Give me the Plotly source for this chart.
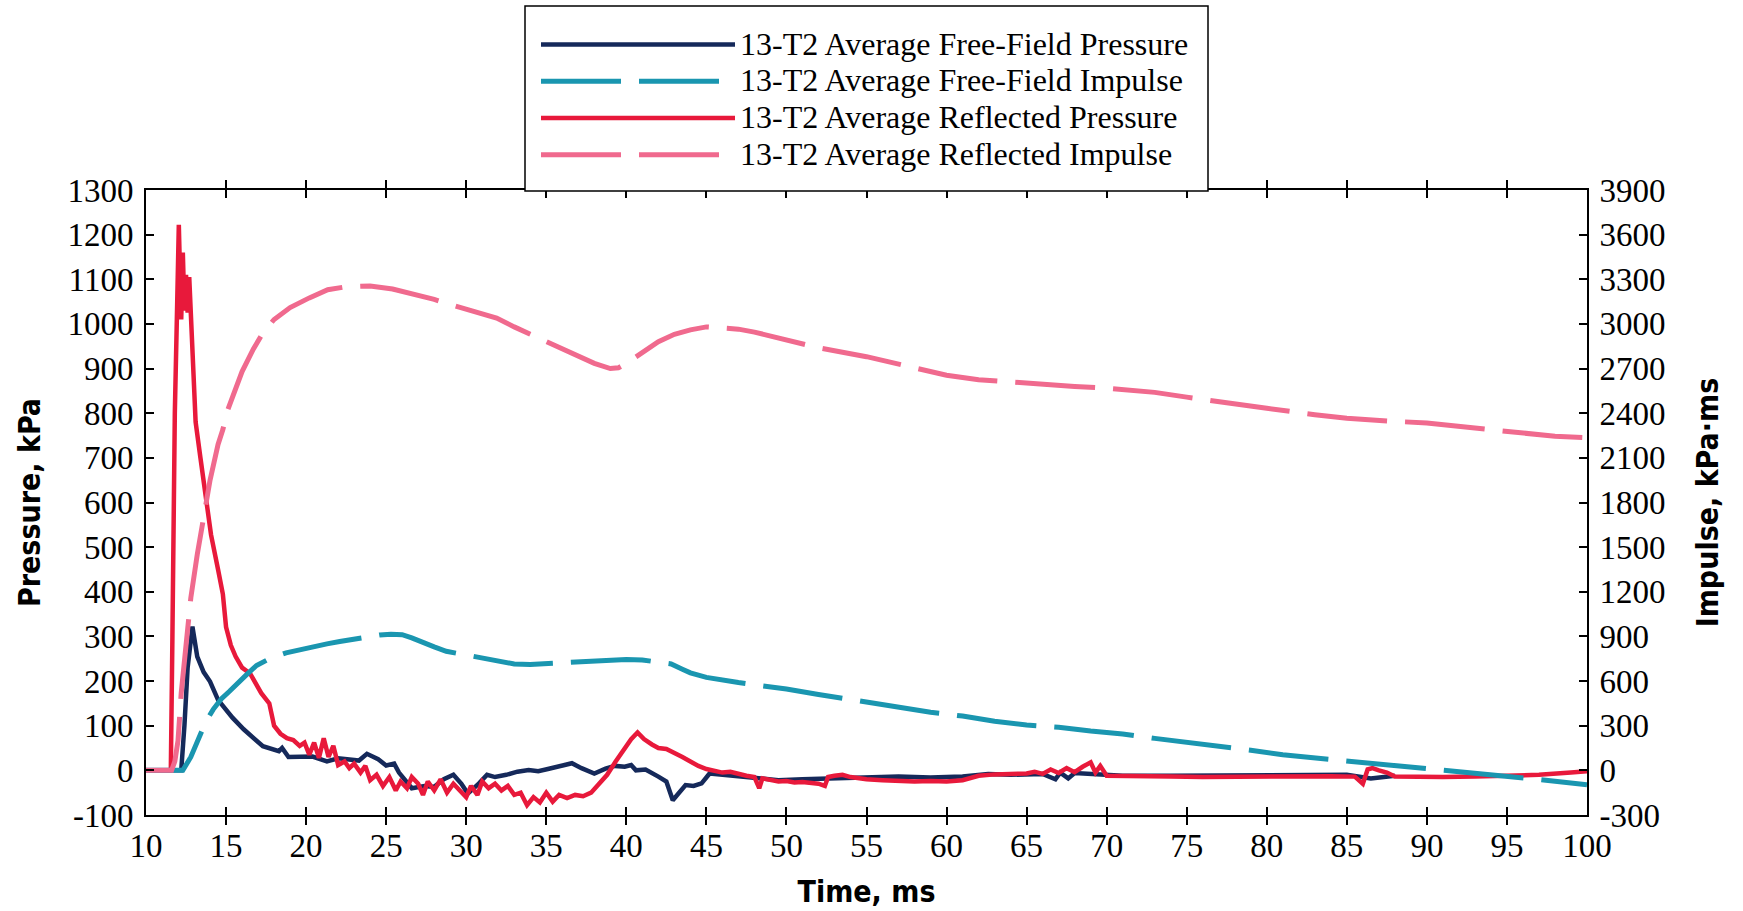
import plotly.graph_objects as go

# ---------------- data ----------------
t_ff_p = [10, 12.2, 12.4, 12.6, 12.9, 13.2, 13.6, 14.0, 14.5, 15.0, 15.4, 16.1, 16.5, 17.3, 18.3, 18.5, 18.9,
          20.4, 21.3, 22.0, 23.3, 23.8, 24.5, 25.0, 25.5, 25.8, 26.6,
          27.4, 28.0, 28.6, 29.2, 29.7, 30.1, 30.5, 30.8, 31.3, 31.8, 32.5, 33.2, 33.9, 34.5, 35.1, 35.8, 36.6,
          37.2, 38.0, 38.7, 39.3, 39.9, 40.3, 40.6, 41.2, 42.0, 42.5, 42.9, 43.3, 43.7, 44.2, 44.7, 45.2, 46.0,
          47.1, 48.3, 49.5, 51.0, 53.0, 55.0, 57.0, 59.0, 61.0, 62.6, 64.0, 66.0, 66.8, 67.1, 67.6, 68.0, 69.0,
          71.0, 74.0, 78.0, 82.0, 85.0, 86.5, 87.5, 88.0]
ff_pressure = [0, 0, 100, 230, 322, 255, 220, 199, 158, 135, 118, 92, 80, 54, 43, 50, 30,
               31, 20, 27, 22, 37, 25, 11, 15, -5, -40,
               -35, -37, -20, -10, -30, -52, -40, -29, -10, -15, -10, -3, 1, -2, 3, 8, 16,
               5, -7, 4, 10, 8, 12, 0, 2, -14, -25, -67, -50, -33, -35, -29, -7, -10,
               -14, -18, -22, -20, -18, -16, -14, -16, -14, -8, -10, -8, -20, -5, -18, -6, -8,
               -12, -12, -11, -10, -10, -18, -15, -12]

t_ff_i = [10, 12.3, 12.8, 13.2, 13.75, 14.2, 14.7, 15.2, 15.7, 16.3, 16.9, 17.8, 18.75, 19.6, 20.6, 21.3, 22.1,
          23.3, 24.6, 25.3, 26.0, 26.6, 27.3, 28.0, 28.75, 30.0, 31.0, 32.0, 33.0, 34.0, 35.0, 36.0, 37.0, 38.0,
          39.0, 40.0, 41.0, 42.0, 42.8, 43.5, 44.0, 45.0, 46.0, 47.0, 48.0, 50.0, 52.0, 54.0, 55.0, 57.0, 59.0,
          61.0, 63.0, 65.0, 67.0, 69.0, 71.0, 73.0, 75.0, 77.0, 79.0, 81.0, 83.0, 85.0, 87.0, 89.0, 91.0, 93.0,
          95.0, 97.0, 100.0]
ff_impulse = [0, 0, 90, 200, 330, 410, 480, 530, 585, 645, 705, 755, 790, 812, 832, 850, 866,
              890, 910, 915, 912, 890, 856, 830, 800, 775, 750, 728, 715, 712, 718, 722, 728, 734,
              740, 745, 742, 730, 715, 680, 655, 625, 605, 590, 575, 547, 510, 475, 457, 430, 390,
              365, 330, 305, 290, 265, 245, 215, 190, 160, 135, 105, 85, 65, 40, 18, 0, -18,
              -42, -62, -97]

t_rf_p = [10, 11.55, 11.65, 11.8, 11.95, 12.05, 12.1, 12.2, 12.3, 12.4, 12.5, 12.6, 12.7, 12.85, 13.1, 13.4,
          13.65, 13.9, 14.06, 14.5, 14.8, 15.0, 15.3, 15.6, 16.0, 16.5, 16.8, 17.2, 17.7, 18.0, 18.4,
          18.8, 19.2, 19.6, 19.9, 20.2, 20.5, 20.8, 21.1, 21.4, 21.7, 22.0, 22.4, 22.7, 23.0, 23.4, 23.7, 24.0,
          24.4, 24.8, 25.2, 25.6, 25.9, 26.3, 26.6, 27.0, 27.3, 27.6, 28.0, 28.4, 28.8, 29.2, 29.6, 30.0, 30.3,
          30.7, 31.0, 31.4, 31.8, 32.2, 32.6, 33.0, 33.4, 33.8, 34.2, 34.6, 35.0, 35.4, 35.8, 36.3, 36.8, 37.3,
          37.8, 38.3, 38.8, 39.3, 39.8, 40.3, 40.7, 41.1, 41.6, 42.0, 42.5, 43.0, 43.5, 44.0, 44.5, 45.0, 45.5,
          46.0, 46.5, 47.0, 47.5, 48.0, 48.3, 48.5, 49.0, 49.5, 50.0, 50.5, 51.0, 51.5, 52.0, 52.4, 52.6, 53.0,
          53.5, 54.0, 55.0, 56.0, 57.0, 58.0, 59.0, 60.0, 61.0, 62.0, 63.0, 64.0, 65.0, 65.5, 66.0, 66.5, 67.0,
          67.5, 68.0, 68.5, 69.0, 69.3, 69.6, 70.0, 71.0, 72.0, 74.0, 76.0, 78.0, 80.0, 82.0, 84.0, 85.5, 86.0,
          86.3, 86.6, 87.0, 87.5, 88.0, 89.0, 91.0, 93.0, 95.0, 97.0, 99.0, 100.0]
rf_pressure = [0, 0, 300, 800, 1050, 1222, 1150, 1010, 1160, 1030, 1110, 1025, 1105, 1000, 780, 700,
               630, 555, 528, 450, 395, 321, 280, 255, 230, 217, 200, 173, 150, 100, 82,
               72, 68, 55, 62, 35, 62, 28, 72, 30, 55, 12, 20, 5, 15, -5, 10, -22,
               -10, -35, -15, -45, -25, -40, -15, -30, -55, -25, -45, -20, -50, -30, -45, -60, -35,
               -55, -25, -40, -30, -45, -35, -55, -50, -78, -60, -72, -50, -70, -55, -62, -55, -58,
               -50, -30, -10, 18, 45, 70, 85, 70, 58, 50, 48, 40, 30, 20, 10, 3, 0,
               -5, -3, -8, -12, -15, -40, -18, -22, -25, -24, -27, -26, -28, -30, -35, -15, -12,
               -10, -15, -20, -22, -24, -25, -24, -25, -22, -12, -9, -8, -7, -3, -8, 2, -6,
               5, -4, 8, 18, -5, 10, -12, -13, -14, -14, -15, -14, -14, -13, -13, -14, -30,
               2, 5, 0, -5, -14, -15, -15, -14, -12, -10, -5, -2]

t_rf_i = [10, 11.6, 11.8, 12.0, 12.2, 12.5, 12.8, 13.2, 13.65, 14.0, 14.5, 14.8, 15.1, 15.6, 16.0, 16.7, 17.3,
          18.0, 19.0, 20.2, 21.35, 22.5, 24.0, 25.4, 26.9, 28.0, 29.0, 30.5, 31.9, 33.0, 34.0, 35.0, 36.0, 37.0,
          38.0, 39.0, 39.5, 40.0, 41.0, 42.0, 43.0, 44.0, 45.0, 46.0, 47.0, 48.0, 50.0, 52.0, 55.0, 58.0, 60.0,
          62.0, 65.0, 68.0, 70.0, 73.0, 75.0, 78.0, 80.0, 83.0, 85.0, 88.0, 90.0, 93.0, 95.0, 98.0, 100.0]
rf_impulse = [0, 0, 60, 200, 520, 850, 1160, 1450, 1740, 1950, 2190, 2290, 2420, 2570, 2680, 2830, 2940,
              3030, 3110, 3175, 3230, 3250, 3255, 3235, 3197, 3165, 3130, 3085, 3040, 2980, 2930, 2884, 2835, 2785,
              2735, 2700, 2705, 2735, 2810, 2880, 2930, 2960, 2980, 2975, 2965, 2945, 2890, 2840, 2780, 2700, 2655,
              2625, 2600, 2580, 2568, 2540, 2508, 2460, 2433, 2390, 2366, 2345, 2335, 2300, 2276, 2245, 2235]

names = ["13-T2 Average Free-Field Pressure", "13-T2 Average Free-Field Impulse",
         "13-T2 Average Reflected Pressure", "13-T2 Average Reflected Impulse"]

x_ticks = list(range(10, 101, 5))
y_ticks = list(range(-100, 1301, 100))
y2_ticks = list(range(-300, 3901, 300))

# ---------------- styling ----------------
NAVY = "#15295a"
TEAL = "#1a96b0"
RED = "#e8193b"
PINK = "#f06a8e"
SERIF = "Liberation Serif, Times New Roman, serif"
NARROW = "Liberation Sans Narrow, Arial Narrow, DejaVu Sans Condensed, sans-serif"
DASH = "80px,18px"


def lg(s):
    return '<span style="font-size:32px">' + s + '</span>'


fig = go.Figure()
fig.add_trace(go.Scatter(x=t_ff_i, y=ff_impulse, name=lg(names[1]), yaxis="y2", mode="lines",
                         line=dict(color=TEAL, width=5, dash=DASH), legendrank=2))
fig.add_trace(go.Scatter(x=t_rf_i, y=rf_impulse, name=lg(names[3]), yaxis="y2", mode="lines",
                         line=dict(color=PINK, width=5, dash=DASH), legendrank=4))
fig.add_trace(go.Scatter(x=t_ff_p, y=ff_pressure, name=lg(names[0]), mode="lines",
                         line=dict(color=NAVY, width=4.5), legendrank=1))
fig.add_trace(go.Scatter(x=t_rf_p, y=rf_pressure, name=lg(names[2]), mode="lines",
                         line=dict(color=RED, width=4.5), legendrank=3))

L, R, T, B = 146, 156, 190, 96
W, H = 1743, 911
pw, ph = W - L - R, H - T - B


def px_x(px):
    return (px - L) / pw


def px_y(py):
    return (H - B - py) / ph


axis_common = dict(showline=True, linecolor="black", linewidth=2, ticks="inside", ticklen=8,
                   tickwidth=1.5, tickcolor="black", showgrid=False, zeroline=False,
                   tickfont=dict(family=SERIF, size=33, color="black"))
title_font = dict(family=NARROW, size=30, color="black", weight="bold")

fig.add_shape(type="rect", xref="paper", yref="paper", x0=px_x(525), x1=px_x(1208), y0=px_y(191), y1=px_y(6),
              line=dict(color="black", width=1.5), fillcolor="white", layer="above")

fig.update_layout(
    width=W, height=H,
    margin=dict(l=L, r=R, t=T, b=B, autoexpand=False),
    paper_bgcolor="white", plot_bgcolor="white",
    showlegend=True,
    legend=dict(x=px_x(536), y=px_y(21), xanchor="left", yanchor="top",
                bgcolor="rgba(0,0,0,0)", borderwidth=0,
                font=dict(family=SERIF, size=26, color="black"),
                itemwidth=194, tracegroupgap=0),
    xaxis=dict(range=[10, 100], tickvals=x_ticks, mirror="allticks",
               title=dict(text="Time, ms", font=title_font, standoff=18),
               **axis_common),
    yaxis=dict(range=[-100, 1300], tickvals=y_ticks, ticktext=[str(v) for v in y_ticks],
               ticklabelstandoff=4,
               title=dict(text="Pressure, kPa", font=title_font, standoff=18),
               **axis_common),
    yaxis2=dict(range=[-300, 3900], tickvals=y2_ticks, ticktext=[str(v) for v in y2_ticks],
                overlaying="y", side="right", ticklabelstandoff=4,
                title=dict(text="Impulse, kPa·ms", font=title_font, standoff=32),
                **axis_common),
)

fig.write_html("out.html")
